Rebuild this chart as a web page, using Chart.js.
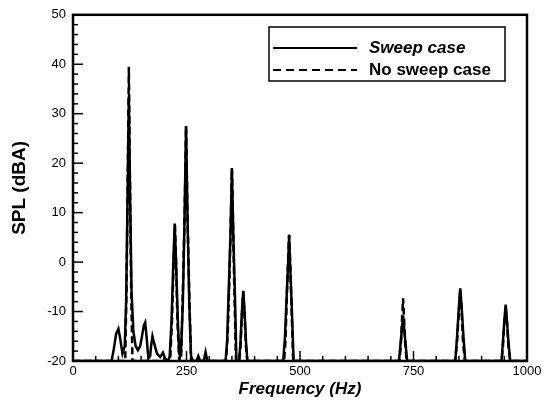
<!DOCTYPE html>
<html>
<head>
<meta charset="utf-8">
<script src="https://cdn.jsdelivr.net/npm/chart.js@4.4.1/dist/chart.umd.min.js"></script>
<style>
  body { margin: 0; background: #fff; }
</style>
</head>
<body>
<canvas id="splChart" width="553" height="407"></canvas>
<script>
// frequency (Hz) / SPL (dBA)
var sweepHz = [
    0, 85, 90, 95, 100, 104, 109, 114,
    117, 120, 123, 126, 129, 133, 138, 143,
    148, 152, 156, 159, 162, 166, 170, 172, 175, 179, 185, 192, 198, 203, 210,
    213, 217, 221, 224, 227, 231, 234, 236,
    238, 242, 245.5, 249, 252.5, 256, 260, 264, 272, 276, 280, 288, 292, 296,
    336, 339.5, 343.5, 347, 350, 353, 356.5, 360,
    366, 369, 372, 375, 378, 381, 384,
    463, 467, 471, 474, 476, 478, 481, 486,
    718, 721, 724, 727, 730, 733, 736,
    842, 846, 850, 853, 856, 860, 864,
    944, 947, 950, 953, 956, 959, 963,
    1000
];
var sweepSpl = [
    -20, -20, -17.5, -14.5, -13.5, -15.5, -18.5, -17,
    -8, 12, 33.5, 12, -6, -14, -17, -17.8,
    -17, -15, -12.8, -12.2, -15, -19.5, -19, -17, -15, -16.5, -18.5, -19.2, -18.3, -19.5, -20,
    -19, -12, 0, 7.8, 0, -12, -18.5, -19,
    -18, -8, 8, 27.5, 8, -8, -19, -20, -20, -19, -20, -20, -18.2, -20,
    -20, -16, -4, 6, 18.8, 6, -6, -20,
    -20, -16, -10, -5.8, -10, -16, -20,
    -20, -15, -6, 0, 5.5, 0, -7, -20,
    -20, -17, -14, -10.8, -14, -17, -20,
    -20, -15, -9, -5.3, -9, -15, -20,
    -20, -16, -12, -8.6, -12, -16, -20,
    -20
];

var noSweepHz = [
    0, 115, 118, 121, 123, 125, 128, 131,
    214, 218, 222, 224.5, 227, 230, 234,
    238, 242, 246, 249, 252, 256, 260,
    337, 341, 345, 347.5, 350, 352.5, 355, 359,
    366, 369, 372, 375, 378, 381, 384,
    465, 468, 471, 474, 476, 478, 481, 485,
    719, 722, 725, 727, 729, 732, 735,
    842, 846, 850, 853, 856, 859, 863,
    944, 947, 950, 953, 956, 959, 963,
    1000
];
var noSweepSpl = [
    -20, -20, -5, 20, 39.5, 20, -5, -20,
    -20, -12, 1, 7.5, 0, -12, -20,
    -20, -6, 10, 27.5, 10, -6, -20,
    -20, -14, -2, 8, 19, 8, -4, -20,
    -20, -17, -11, -6, -11, -17, -20,
    -20, -16, -7, 1, 5.5, 1, -8, -20,
    -20, -17, -11, -7.3, -11, -17, -20,
    -20, -16, -10, -5.5, -10, -16, -20,
    -20, -17, -12.5, -8.8, -12.5, -17, -20,
    -20
];

var seriesNames = ['Sweep case', 'No sweep case'];
var xTicks = [0, 250, 500, 750, 1000];
var yTicks = [-20, -10, 0, 10, 20, 30, 40, 50];

function toPoints(xs, ys) {
    var pts = [];
    for (var i = 0; i < xs.length; i++) {
        pts.push({x: xs[i], y: ys[i]});
    }
    return pts;
}

// frame + inward ticks, tecplot style
var frameTicks = {
    id: 'frameTicks',
    afterDatasetsDraw: function(chart) {
        var ctx = chart.ctx;
        var a = chart.chartArea;
        var xs = chart.scales.x, ys = chart.scales.y;
        ctx.save();
        ctx.strokeStyle = '#000';
        ctx.lineWidth = 1.5;
        for (var f = 0; f <= 1000; f += 50) {
            var px = xs.getPixelForValue(f);
            var len = (f % 250 === 0) ? 10 : 5;
            ctx.beginPath();
            ctx.moveTo(px, a.bottom);
            ctx.lineTo(px, a.bottom - len);
            ctx.stroke();
        }
        for (var v = -20; v <= 50; v += 2) {
            var py = ys.getPixelForValue(v);
            var l2 = (v % 10 === 0) ? 10 : 5;
            ctx.beginPath();
            ctx.moveTo(a.left, py);
            ctx.lineTo(a.left + l2, py);
            ctx.stroke();
        }
        ctx.lineWidth = 2.5;
        ctx.strokeRect(a.left, a.top, a.right - a.left, a.bottom - a.top);
        ctx.restore();
    }
};

// legend box with mixed font styles
var boxLegend = {
    id: 'boxLegend',
    afterDraw: function(chart) {
        var ctx = chart.ctx;
        ctx.save();
        ctx.strokeStyle = '#000';
        ctx.lineWidth = 1.5;
        ctx.fillStyle = '#fff';
        ctx.fillRect(269, 27, 236, 54);
        ctx.strokeRect(269, 27, 236, 54);

        ctx.lineWidth = 2;
        ctx.beginPath();
        ctx.moveTo(273, 48);
        ctx.lineTo(357, 48);
        ctx.stroke();

        ctx.setLineDash([8, 5]);
        ctx.beginPath();
        ctx.moveTo(273, 70);
        ctx.lineTo(357, 70);
        ctx.stroke();
        ctx.setLineDash([]);

        ctx.fillStyle = '#000';
        ctx.textBaseline = 'middle';
        ctx.font = 'italic bold 17px "Liberation Sans", Arial, sans-serif';
        ctx.fillText(seriesNames[0], 369, 48);
        ctx.font = 'bold 17px "Liberation Sans", Arial, sans-serif';
        ctx.fillText(seriesNames[1], 369, 70);
        ctx.restore();
    }
};

var chartData = {
    datasets: [{
        label: seriesNames[0],
        data: toPoints(sweepHz, sweepSpl),
        borderColor: '#000',
        borderWidth: 2.5,
        pointRadius: 0,
        tension: 0,
        fill: false
    }, {
        label: seriesNames[1],
        data: toPoints(noSweepHz, noSweepSpl),
        borderColor: '#000',
        borderWidth: 2.5,
        borderDash: [7, 4],
        pointRadius: 0,
        tension: 0,
        fill: false
    }]
};

const config = {
    type: 'line',
    data: chartData,
    options: {
        responsive: false,
        animation: false,
        layout: { padding: { left: 0, right: 26, top: 11, bottom: 0 } },
        plugins: {
            legend: { display: false },
            tooltip: { enabled: false }
        },
        scales: {
            x: {
                type: 'linear',
                min: 0,
                max: 1000,
                afterBuildTicks: function(scale) {
                    scale.ticks = xTicks.map(function(v) { return {value: v}; });
                },
                afterFit: function(scale) { scale.height = 46; },
                grid: { display: false, drawTicks: false },
                border: { display: false },
                ticks: {
                    color: '#000',
                    padding: 3,
                    maxRotation: 0,
                    callback: function(value) { return String(value); },
                    font: { family: '"Liberation Sans", Arial, sans-serif', size: 13 }
                },
                title: {
                    display: true,
                    text: 'Frequency (Hz)',
                    color: '#000',
                    padding: { top: 0, bottom: 7 },
                    font: { family: '"Liberation Sans", Arial, sans-serif', size: 17, weight: 'bold', style: 'italic' }
                }
            },
            y: {
                min: -20,
                max: 50,
                afterBuildTicks: function(scale) {
                    scale.ticks = yTicks.map(function(v) { return {value: v}; });
                },
                afterFit: function(scale) { scale.width = 73; },
                grid: { display: false, drawTicks: false },
                border: { display: false },
                ticks: {
                    color: '#000',
                    padding: 7,
                    font: { family: '"Liberation Sans", Arial, sans-serif', size: 13 }
                },
                title: {
                    display: true,
                    text: 'SPL (dBA)',
                    color: '#000',
                    padding: { top: 8, bottom: 0 },
                    font: { family: '"Liberation Sans", Arial, sans-serif', size: 19, weight: 'bold' }
                }
            }
        }
    },
    plugins: [frameTicks, boxLegend]
};

const splChart = new Chart(document.getElementById('splChart'), config);
</script>
</body>
</html>
